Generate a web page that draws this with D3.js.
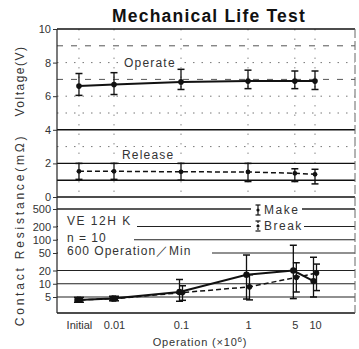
<!DOCTYPE html>
<html><head><meta charset="utf-8">
<script src="https://cdn.jsdelivr.net/npm/d3@7"></script>
<style>body{margin:0;background:#fff}svg{display:block}</style>
</head><body><svg id="chart" width="359" height="349"></svg>
<script>
// Operations (x10^6); "Initial" sits one half-decade left of 0.01 on the log axis
const xLabels = ["Initial", "0.01", "0.1", "1", "5", "10"];
const xValues = [0.003, 0.01, 0.1, 1, 5, 10];

// Operate / release voltage (V): mean with min–max range
const operateV  = [6.6, 6.7, 6.85, 6.9, 6.9, 6.9];
const operateLo = [6.05, 6.1, 6.4, 6.45, 6.45, 6.4];
const operateHi = [7.35, 7.4, 7.6, 7.55, 7.5, 7.5];
const releaseV  = [1.53, 1.53, 1.5, 1.49, 1.41, 1.35];
const releaseLo = [1.05, 1.05, 1.0, 0.92, 0.92, 0.78];
const releaseHi = [2.0, 2.0, 2.0, 2.0, 1.68, 1.65];

// Contact resistance (mΩ): make and break contacts
const makeR  = [4.3, 4.6, 6.5, 16, 20, 11.5];
const makeLo = [3.8, 4.1, 4.0, 4.5, 4.6, 5.0];
const makeHi = [4.9, 5.2, 12.5, 45, 75, 40];
const breakR  = [4.3, 4.6, 6.3, 8.5, 14, 17.5];
const breakLo = [3.8, 4.1, 4.2, 4.3, 6.5, 7.0];
const breakHi = [4.9, 5.2, 9.0, 16, 30, 28];

const voltTicks = [0, 2, 4, 6, 8, 10];
const resTicks = [5, 10, 20, 50, 100, 200, 500];
const voltSolid = [0, 1, 2, 4];
const voltDashed = [7, 9];
const voltDotted = [3, 5, 6, 8];

(function draw() {
const svg = d3.select("#chart");
const FONT = "'Liberation Sans', Arial, sans-serif";
const pLeft = 57, pRight = 355, pTop = 29, pBottom = 313;

const x = d3.scaleLog().domain([0.01, 10]).range([114, 315]);
const yV = d3.scaleLinear().domain([0, 10]).range([197, 29]);
const yR = d3.scaleLog().domain([5, 500]).range([297, 209]);

// title
svg.append("text").attr("x", 209).attr("y", 22).attr("text-anchor", "middle")
  .attr("font-family", FONT).attr("font-weight", "bold").attr("font-size", 17.5)
  .attr("letter-spacing", 1.2).attr("fill", "#111").text("Mechanical Life Test");

// reference lines, voltage panel
const g = svg.append("g");
g.selectAll(".vd").data(voltDotted).join("line")
  .attr("x1", pLeft).attr("x2", pRight).attr("y1", d => yV(d)).attr("y2", d => yV(d))
  .attr("stroke", "#777").attr("stroke-width", 1).attr("stroke-dasharray", "1.5,7");
g.selectAll(".vdash").data(voltDashed).join("line")
  .attr("x1", pLeft).attr("x2", pRight).attr("y1", d => yV(d)).attr("y2", d => yV(d))
  .attr("stroke", "#555").attr("stroke-width", 1).attr("stroke-dasharray", "6,8");
g.selectAll(".vx").data(xValues).join("line")
  .attr("x1", d => x(d)).attr("x2", d => x(d)).attr("y1", pTop).attr("y2", yV(0))
  .attr("stroke", "#888").attr("stroke-width", 1).attr("stroke-dasharray", "1.5,8");
g.selectAll(".vs").data(voltSolid).join("line")
  .attr("x1", pLeft).attr("x2", pRight).attr("y1", d => yV(d)).attr("y2", d => yV(d))
  .attr("stroke", "#111").attr("stroke-width", 1.4);

// reference lines, resistance panel
g.selectAll(".rs").data(resTicks).join("line")
  .attr("x1", pLeft).attr("x2", pRight).attr("y1", d => yR(d)).attr("y2", d => yR(d))
  .attr("stroke", "#222").attr("stroke-width", d => d === 500 ? 1.6 : 1.2);

// frame
svg.append("line").attr("x1", pLeft).attr("x2", pRight).attr("y1", pTop).attr("y2", pTop)
  .attr("stroke", "#111").attr("stroke-width", 1.6);
svg.append("line").attr("x1", pLeft).attr("x2", pRight).attr("y1", pBottom).attr("y2", pBottom)
  .attr("stroke", "#111").attr("stroke-width", 1.6);
svg.append("line").attr("x1", pLeft).attr("x2", pLeft).attr("y1", pTop).attr("y2", pBottom)
  .attr("stroke", "#222").attr("stroke-width", 1.2);
svg.append("line").attr("x1", pRight).attr("x2", pRight).attr("y1", pTop).attr("y2", pBottom)
  .attr("stroke", "#666").attr("stroke-width", 1).attr("stroke-dasharray", "9,3");

// axes
function styleAxis(sel) {
  sel.select(".domain").remove();
  sel.selectAll("text").attr("font-family", FONT).attr("font-size", 11).attr("fill", "#333");
  sel.selectAll("line").attr("stroke", "#333");
}
svg.append("g").attr("transform", `translate(${pLeft},0)`)
  .call(d3.axisLeft(yV).tickValues(voltTicks).tickSize(4).tickPadding(2).tickFormat(d3.format("d")))
  .call(styleAxis);
svg.append("g").attr("transform", `translate(${pLeft},0)`)
  .call(d3.axisLeft(yR).tickValues(resTicks).tickSize(4).tickPadding(2).tickFormat(d3.format("d")))
  .call(styleAxis);
svg.append("g").attr("transform", `translate(0,${pBottom})`)
  .call(d3.axisBottom(x).tickValues(xValues).tickSize(0).tickPadding(8)
    .tickFormat((d, i) => xLabels[i]))
  .call(styleAxis);

// axis titles
svg.append("text").attr("transform", "translate(24,81) rotate(-90)").attr("text-anchor", "middle")
  .attr("font-family", FONT).attr("font-size", 12).attr("letter-spacing", 1.5).attr("fill", "#333")
  .text("Voltage(V)");
svg.append("text").attr("transform", "translate(24,230) rotate(-90)").attr("text-anchor", "middle")
  .attr("font-family", FONT).attr("font-size", 12).attr("letter-spacing", 2.8).attr("fill", "#333")
  .text("Contact Resistance(mΩ)");
const xt = svg.append("text").attr("x", 200).attr("y", 346).attr("text-anchor", "middle")
  .attr("font-family", FONT).attr("font-size", 11).attr("letter-spacing", 0.8).attr("fill", "#333");
xt.append("tspan").text("Operation (×10");
xt.append("tspan").attr("font-size", 8).attr("dy", -4).text("6");
xt.append("tspan").attr("dy", 4).text(")");

// labels on a white patch that hides the reference lines behind them
function label(tx, ty, s, spacing, maskLeft, maskRight) {
  const lg = svg.append("g");
  const rect = lg.append("rect").attr("fill", "#fff");
  const t = lg.append("text").attr("x", tx).attr("y", ty)
    .attr("font-family", FONT).attr("font-size", 12).attr("letter-spacing", spacing)
    .attr("fill", "#333").text(s);
  const b = t.node().getBBox();
  const x0 = maskLeft != null ? maskLeft : b.x - 3;
  const x1 = maskRight != null ? maskRight : b.x + b.width + 3;
  rect.attr("x", x0).attr("y", b.y - 1).attr("width", x1 - x0).attr("height", b.height + 2);
  return lg;
}
label(124, 67, "Operate", 1.2);
label(122, 159, "Release", 1.2);
label(67, 225, "VE 12H K", 1.5, pLeft + 1, 137);
label(67, 241.5, "n = 10", 1, pLeft + 1, 134);
label(67, 254.5, "600 Operation／Min", 1, pLeft + 1, 212);
label(264, 214, "Make", 1.5, 251, 302);
label(264, 230, "Break", 1.5, 251, 304);

// legend glyphs
function legendBar(cx, cy, dashed) {
  const lg = svg.append("g");
  lg.append("line").attr("x1", cx).attr("x2", cx).attr("y1", cy - 5).attr("y2", cy + 5)
    .attr("stroke", "#111").attr("stroke-width", 1.2).attr("stroke-dasharray", dashed ? "2,1.5" : null);
  [cy - 5, cy + 5].forEach(yy => lg.append("line").attr("x1", cx - 2.5).attr("x2", cx + 2.5)
    .attr("y1", yy).attr("y2", yy).attr("stroke", "#111").attr("stroke-width", 1.2));
  lg.append("circle").attr("cx", cx).attr("cy", cy).attr("r", 1.6).attr("fill", "#111");
}
legendBar(258, 210, false);
legendBar(258, 226, true);

// series drawing
function series(yScale, vals, lo, hi, dashed, dx, r) {
  const pts = xValues.map((d, i) => ({ x: x(d) + dx, v: vals[i], lo: lo[i], hi: hi[i] }));
  const sg = svg.append("g");
  sg.append("path").datum(pts)
    .attr("d", d3.line().x(p => p.x).y(p => yScale(p.v)))
    .attr("fill", "none").attr("stroke", "#111").attr("stroke-width", dashed ? 1.5 : 2)
    .attr("stroke-dasharray", dashed ? "5,3" : null);
  const eb = sg.selectAll(".eb").data(pts).join("g");
  eb.append("line").attr("x1", p => p.x).attr("x2", p => p.x)
    .attr("y1", p => yScale(p.lo)).attr("y2", p => yScale(p.hi))
    .attr("stroke", "#111").attr("stroke-width", 1.3);
  ["lo", "hi"].forEach(k => eb.append("line")
    .attr("x1", p => p.x - 3.5).attr("x2", p => p.x + 3.5)
    .attr("y1", p => yScale(p[k])).attr("y2", p => yScale(p[k]))
    .attr("stroke", "#111").attr("stroke-width", 1.5));
  eb.append("circle").attr("cx", p => p.x).attr("cy", p => yScale(p.v)).attr("r", r).attr("fill", "#111");
}
series(yV, operateV, operateLo, operateHi, false, 0, 2.8);
series(yV, releaseV, releaseLo, releaseHi, true, 0, 2.4);
series(yR, makeR, makeLo, makeHi, false, -1.5, 3.2);
series(yR, breakR, breakLo, breakHi, true, 1.5, 2.8);
})();
</script>
</body></html>
